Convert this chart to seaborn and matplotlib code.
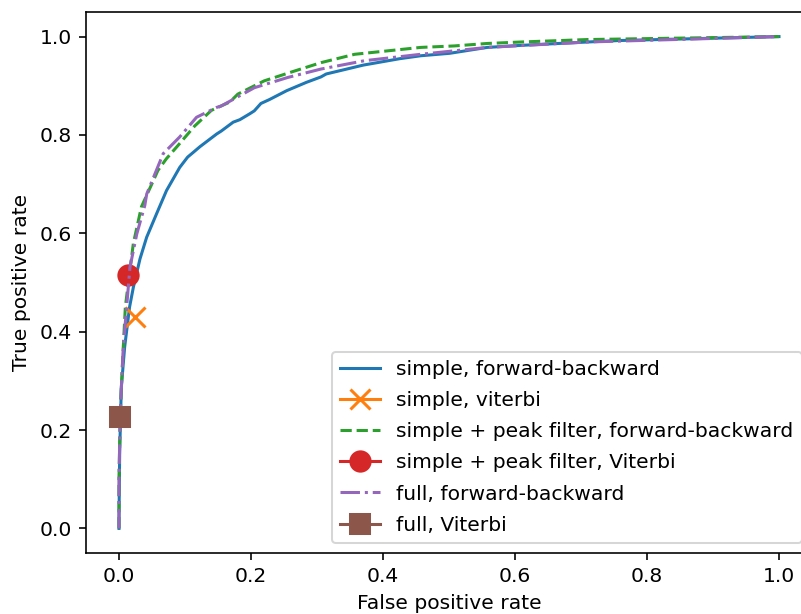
import matplotlib
matplotlib.use("Agg")
import matplotlib.pyplot as plt
import seaborn as sns
import pandas as pd

# --- data ---
fpr_simple_fb = [0.0, 0.0, 0.001, 0.0035, 0.0086, 0.0116, 0.016, 0.0217, 0.0318, 0.0419, 0.057,
                 0.072, 0.092, 0.104, 0.112, 0.1225, 0.148, 0.155, 0.173, 0.183, 0.198, 0.205, 0.215,
                 0.228, 0.254, 0.284, 0.306, 0.314, 0.37, 0.425, 0.457, 0.501, 0.558, 0.607, 0.71, 0.758, 1.0]
tpr_simple_fb = [0.0, 0.016, 0.152, 0.287, 0.369, 0.402, 0.45, 0.49, 0.548, 0.592, 0.640,
                 0.687, 0.734, 0.755, 0.764, 0.776, 0.802, 0.808, 0.826, 0.831, 0.843, 0.849, 0.864,
                 0.872, 0.89, 0.907, 0.918, 0.924, 0.942, 0.955, 0.961, 0.966, 0.978, 0.982, 0.989, 0.992, 1.0]

fpr_peak_fb = [0.0, 0.0, 0.002, 0.006, 0.0096, 0.016, 0.0217, 0.034, 0.052, 0.059, 0.072, 0.089,
               0.1145, 0.14, 0.168, 0.18, 0.22, 0.266, 0.306, 0.357, 0.407, 0.457, 0.508, 0.558,
               0.609, 0.71, 1.0]
tpr_peak_fb = [0.0, 0.1, 0.24, 0.356, 0.45, 0.52, 0.579, 0.654, 0.707, 0.728, 0.752, 0.778,
               0.818, 0.85, 0.867, 0.883, 0.91, 0.93, 0.947, 0.964, 0.971, 0.978, 0.981, 0.986,
               0.989, 0.994, 1.0]

fpr_full_fb = [0.0, 0.0, 0.002, 0.006, 0.009, 0.0166, 0.027, 0.039, 0.042, 0.067, 0.092, 0.1175,
               0.148, 0.155, 0.205, 0.256, 0.306, 0.372, 0.457, 0.558, 0.71, 1.0]
tpr_full_fb = [0.0, 0.1, 0.24, 0.356, 0.409, 0.531, 0.599, 0.656, 0.68, 0.762, 0.796, 0.836,
               0.856, 0.859, 0.896, 0.917, 0.934, 0.951, 0.964, 0.978, 0.989, 1.0]

fpr_simple_vit = [0.0237]
tpr_simple_vit = [0.4295]
fpr_peak_vit = [0.014]
tpr_peak_vit = [0.5157]
fpr_full_vit = [0.0015]
tpr_full_vit = [0.226]

labels = ["simple, forward-backward", "simple, viterbi",
          "simple + peak filter, forward-backward", "simple + peak filter, Viterbi",
          "full, forward-backward", "full, Viterbi"]
colors = sns.color_palette("tab10", 6)

plt.rcParams["font.family"] = ["DejaVu Sans"]
DPI = 146
fig = plt.figure(figsize=(801 / DPI, 614 / DPI), dpi=DPI)
ax = fig.add_axes([86 / 801, 61 / 614, (812 - 86) / 801, (553 - 12) / 614])

def df(x, y):
    return pd.DataFrame({"x": x, "y": y})

common = dict(x="x", y="y", sort=False, estimator=None, linewidth=1.5, ax=ax)

sns.lineplot(data=df(fpr_simple_fb, tpr_simple_fb), color=colors[0], label=labels[0], **common)
sns.lineplot(data=df(fpr_simple_vit, tpr_simple_vit), color=colors[1], marker="x", markersize=10,
             markeredgewidth=1.5, markeredgecolor=colors[1], label=labels[1], **common)
sns.lineplot(data=df(fpr_peak_fb, tpr_peak_fb), color=colors[2], linestyle="--",
             label=labels[2], **common)
sns.lineplot(data=df(fpr_peak_vit, tpr_peak_vit), color=colors[3], marker="o", markersize=10,
             markeredgewidth=1.0, markeredgecolor=colors[3], label=labels[3], **common)
sns.lineplot(data=df(fpr_full_fb, tpr_full_fb), color=colors[4], linestyle="-.",
             label=labels[4], **common)
sns.lineplot(data=df(fpr_full_vit, tpr_full_vit), color=colors[5], marker="s", markersize=10,
             markeredgewidth=1.0, markeredgecolor=colors[5], label=labels[5], **common)

ax.set_xlim(-0.05, 1.05)
ax.set_ylim(-0.05, 1.05)
ax.set_xticks([0.0, 0.2, 0.4, 0.6, 0.8, 1.0])
ax.set_yticks([0.0, 0.2, 0.4, 0.6, 0.8, 1.0])
ax.set_xlabel("False positive rate")
ax.set_ylabel("True positive rate")
ax.legend(loc="lower right", labelspacing=0.6)

fig.savefig("out.png", dpi=DPI)
